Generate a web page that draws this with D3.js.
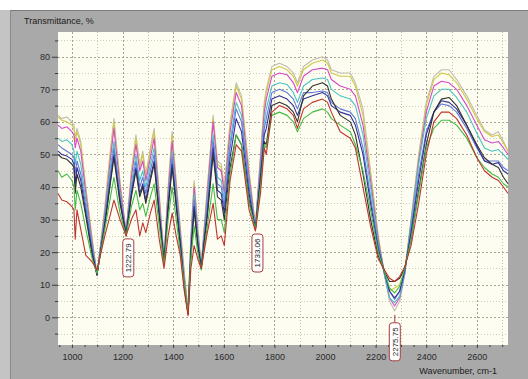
<!DOCTYPE html>
<html>
<head>
<meta charset="utf-8">
<script src="https://cdn.jsdelivr.net/npm/d3@7"></script>
<style>
  body { margin: 0; background: #fff; }
  svg { display: block; font-family: "Liberation Sans", Arial, sans-serif; }
</style>
</head>
<body>
<div id="chart"></div>
<script>
// ─── DATA ───────────────────────────────────────────────────────────────────────
const wavenumbers = [945, 960, 980, 1000, 1008, 1013, 1020, 1035, 1055, 1080, 1099, 1130, 1150, 1166, 1190, 1214, 1235, 1253, 1268, 1280, 1292, 1310, 1325, 1345, 1364, 1380, 1396, 1412, 1428, 1444, 1459, 1470, 1483, 1497, 1511, 1535, 1558, 1575, 1590, 1602, 1625, 1649, 1670, 1700, 1725, 1745, 1760, 1768, 1790, 1820, 1850, 1875, 1891, 1915, 1950, 1990, 2010, 2025, 2060, 2100, 2120, 2150, 2180, 2210, 2235, 2255, 2275, 2295, 2315, 2340, 2370, 2400, 2430, 2460, 2490, 2520, 2560, 2600, 2630, 2660, 2685, 2705, 2723];

const grayT = [62, 61, 61.5, 60, 59, 55, 58, 54, 40, 24, 13, 34, 50, 61, 42, 26, 45, 56, 47, 51, 44, 52, 58, 38, 18, 40, 57, 42, 28, 14, 2, 25, 42, 28, 16, 40, 62, 48, 47, 40, 60, 72, 68, 45, 28, 50, 66, 70, 77, 78, 77, 75, 72, 77, 79, 80, 79, 76, 75, 75, 72, 64, 45, 25, 13, 5, 2, 5, 13, 30, 50, 66, 74, 76, 76, 73, 68, 62, 57.5, 56, 57, 54, 51];
const yellowT = [61.5, 60.5, 60, 59, 58, 54, 57, 53, 39, 24, 13, 33, 49, 60, 41, 26, 44, 55, 46, 50, 43, 51, 57, 37, 18, 39, 56, 41, 27, 13, 2, 24, 41, 27, 16, 39, 61, 47, 46, 39, 59, 71, 67, 44, 28, 49, 65, 69, 76, 77, 76, 74, 71, 76, 78, 79, 78, 75, 74, 74, 71, 62, 44, 25, 13.5, 8, 9, 10, 14.5, 30, 49, 65, 73, 75, 74.5, 72, 67, 61, 57, 55.5, 56, 53.5, 51];
const magentaT = [59, 58, 58.5, 57, 56, 52, 55, 51, 38, 23, 13, 32, 47, 58, 40, 26, 43, 53, 45, 48, 42, 49, 55, 36, 18, 38, 54, 40, 26, 12, 1.5, 23, 40, 26, 15.5, 38, 60, 46, 45, 38, 57, 69, 65, 43, 27.5, 48, 63, 67, 74, 75, 74.5, 72, 69, 74, 76, 76.5, 76, 73, 71, 70, 68, 59, 42, 24, 13, 6, 3.5, 6, 13.5, 29, 48, 63, 71, 72.5, 72, 70, 65, 59, 54.5, 53.5, 54, 52, 50];
const cyanT = [55, 54, 54.5, 53, 51, 47, 51, 47, 36, 22, 13, 31, 45, 54, 38, 25.5, 41, 50, 42, 45, 40, 47, 52, 34, 17.5, 36, 51, 38, 25, 11, 1.5, 22, 38, 25, 15.5, 36, 56, 43, 42, 36, 54, 66, 62, 41, 27.5, 46, 60, 64, 71, 72, 71.5, 69, 66, 71, 73, 73.5, 73, 70, 68, 67, 65, 56, 40, 23, 13, 6, 4.5, 6.5, 13.5, 29, 47, 61, 68, 70, 70, 67.5, 63, 56.5, 52, 51, 51.5, 50, 48.5];
const blueT = [53, 52, 51, 50, 49, 44, 48, 44, 34, 21, 13, 30, 43, 52, 37, 25.5, 39, 48, 40, 43, 38, 45, 50, 33, 17, 35, 49, 36, 24, 10, 1, 21, 36, 24, 15, 34, 54, 41, 40, 34, 52, 64, 60, 40, 27, 45, 58, 61, 69, 70, 69, 67, 64, 69, 69, 69.5, 69, 66, 64, 63, 61, 52, 37, 22, 13.5, 8, 5.5, 8, 14, 27, 44, 57, 63, 65.5, 65, 63, 58, 52, 48, 48, 48, 46, 45];
const navyT = [51, 50, 49.5, 48.5, 47, 41, 46, 42, 32, 20, 13, 29, 41, 50, 36, 25.5, 38, 46, 38, 41, 36, 43, 48, 32, 17, 34, 47, 35, 23, 9.5, 1, 20, 34, 23, 15, 32, 52, 39, 38, 32, 49, 61, 57, 38, 27, 43, 56, 58, 67, 68, 67, 65, 62, 67, 68, 69, 68, 65, 63, 62, 59, 50, 35, 21, 14, 8, 6, 8, 14.5, 26, 42, 56, 63, 66.5, 66, 64, 59, 52.5, 48, 47, 47.5, 45, 44];
const blackT = [50, 49, 48.5, 47, 46, 38, 44, 40, 31, 19, 13, 28, 40, 49, 35, 25, 37, 45, 37, 40, 35, 42, 47, 31, 16.5, 33, 46, 34, 22, 9, 1, 19, 33, 22, 15, 31, 50, 37, 36, 30, 46, 56, 53, 36, 27, 42, 54, 53, 65, 66, 65, 63, 60, 68, 71, 72, 71, 67, 62, 60, 56, 44, 30, 19, 14, 11, 11, 12, 15, 24, 39, 53, 63, 67, 67.5, 65, 59, 53, 49, 47, 46, 43, 41];
const greenT = [45, 43, 44, 42, 40, 33, 39, 35, 27, 18, 13.5, 27, 36, 43, 32, 25, 34, 39, 33, 35, 31, 37, 41, 28, 16, 30, 40, 30, 20, 10, 1.5, 18, 28, 20, 14.5, 28, 41, 30, 30, 26, 44, 56, 53, 35, 27, 40, 53, 52, 62, 63, 62, 60, 57, 61, 63, 64, 63, 61, 59, 57, 53, 45, 33, 20, 14, 9, 7.5, 9.5, 15, 24, 38, 52, 58, 60.5, 60.5, 59, 55, 49, 46, 44, 43, 41, 40];
const redT = [38, 36, 35.5, 34, 33, 24, 33, 27, 19, 17, 14.5, 25, 31, 36, 30, 25, 30, 33, 25, 29, 26, 32, 36, 24, 15, 25, 32, 25, 19, 8, 0.5, 15, 22, 18, 15, 26, 35, 24, 25, 22, 42, 53, 51, 33, 26.5, 38, 52, 50, 63, 65, 64, 62, 58, 64, 66, 67, 66, 63, 57, 55, 52, 40, 28, 18, 14.5, 12, 11, 12.5, 15.5, 22, 35, 50, 60, 63, 63, 61, 56, 49, 45, 43, 42, 40, 38];

const seriesValues = [grayT, yellowT, magentaT, cyanT, blueT, navyT, blackT, greenT, redT];
const seriesColors = ['#c0bcae', '#d0ca46', '#d848cc', '#48c4c4', '#6278dc', '#30309a', '#303030', '#44bc44', '#c0342c'];

const yTicks = [0, 10, 20, 30, 40, 50, 60, 70, 80];
const xTicks = [1000, 1200, 1400, 1600, 1800, 2000, 2200, 2400, 2600];

const peakPositions = [1222.79, 1733.06, 2275.75];
const peakLabels = ['1222.79', '1733.06', '2275.75'];

// ─── LAYOUT ─────────────────────────────────────────────────────────────────────
const W = 528, H = 379;
const plot = {left: 58, top: 32, right: 508, bottom: 345};
const labelGap = [3, 3, 12];

const svg = d3.select('#chart').append('svg')
  .attr('width', W)
  .attr('height', H);

// grey frame
svg.append('rect')
  .attr('x', 0).attr('y', 10)
  .attr('width', 10).attr('height', H - 10)
  .attr('fill', '#c4c4c4');
svg.append('rect')
  .attr('x', 10).attr('y', 10)
  .attr('width', W - 10).attr('height', H - 10)
  .attr('fill', '#a9a9a9');
svg.append('line')
  .attr('x1', 10).attr('x2', W).attr('y1', 10.5).attr('y2', 10.5)
  .attr('stroke', '#7a7a7a');
svg.append('line')
  .attr('x1', 10.5).attr('x2', 10.5).attr('y1', 10).attr('y2', H)
  .attr('stroke', '#8a8a8a');

// plot area
svg.append('rect')
  .attr('x', plot.left).attr('y', plot.top)
  .attr('width', plot.right - plot.left).attr('height', plot.bottom - plot.top)
  .attr('fill', '#fdfdf1');

// ─── SCALES ─────────────────────────────────────────────────────────────────────
const x = d3.scaleLinear().domain([945, 2723]).range([plot.left, plot.right]);
const y = d3.scaleLinear().domain([-8.5, 87.6]).range([plot.bottom, plot.top]);

// ─── GRID ───────────────────────────────────────────────────────────────────────
const grid = svg.append('g');
d3.range(-5, 86, 5).forEach(v => {
  const major = v % 10 === 0;
  grid.append('line')
    .attr('x1', plot.left).attr('x2', plot.right)
    .attr('y1', Math.round(y(v)) + 0.5).attr('y2', Math.round(y(v)) + 0.5)
    .attr('stroke', major ? '#a8a494' : '#cfcbbb')
    .attr('stroke-dasharray', major ? '2,2' : '1,2');
});
d3.range(1000, 2701, 100).forEach(v => {
  const major = v % 200 === 0;
  grid.append('line')
    .attr('x1', Math.round(x(v)) + 0.5).attr('x2', Math.round(x(v)) + 0.5)
    .attr('y1', plot.top).attr('y2', plot.bottom)
    .attr('stroke', major ? '#a8a494' : '#c4c0b0')
    .attr('stroke-dasharray', major ? '2,2' : '1,2');
});

// ─── AXES ───────────────────────────────────────────────────────────────────────
const yAxis = svg.append('g')
  .attr('transform', `translate(${plot.left},0)`)
  .call(d3.axisLeft(y).tickValues(yTicks).tickSize(6).tickPadding(2));
yAxis.select('.domain').remove();

const yMinor = svg.append('g')
  .attr('transform', `translate(${plot.left},0)`)
  .call(d3.axisLeft(y).tickValues(d3.range(-5, 86, 10)).tickSize(3).tickFormat(''));
yMinor.select('.domain').remove();

const xAxis = svg.append('g')
  .attr('transform', `translate(0,${plot.bottom})`)
  .call(d3.axisBottom(x).tickValues(xTicks).tickSize(3).tickPadding(6).tickFormat(d3.format('d')));
xAxis.select('.domain').remove();

const xMinor = svg.append('g')
  .attr('transform', `translate(0,${plot.bottom})`)
  .call(d3.axisBottom(x).tickValues(d3.range(950, 2723, 50).filter(v => v % 200 !== 0)).tickSize(2).tickFormat(''));
xMinor.select('.domain').remove();

svg.selectAll('.tick line').attr('stroke', '#3a3a3a');
svg.selectAll('.tick text')
  .attr('fill', '#2a2a2a')
  .style('font-size', '9px')
  .style('font-family', '"Liberation Sans", Arial, sans-serif');

// axis titles
svg.append('text')
  .attr('x', 24).attr('y', 24)
  .attr('fill', '#1a1a1a')
  .style('font-size', '9px')
  .text('Transmittance, %');

svg.append('text')
  .attr('x', 497).attr('y', 374)
  .attr('text-anchor', 'end')
  .attr('fill', '#1a1a1a')
  .style('font-size', '9px')
  .text('Wavenumber, cm-1');

// ─── SPECTRA ────────────────────────────────────────────────────────────────────
const line = d3.line()
  .x((d, i) => x(wavenumbers[i]))
  .y(d => y(d));

const lines = svg.append('g');
seriesValues.forEach((vals, k) => {
  lines.append('path')
    .datum(vals)
    .attr('d', line)
    .attr('fill', 'none')
    .attr('stroke', seriesColors[k])
    .attr('stroke-width', 1.1)
    .attr('stroke-linejoin', 'round');
});

// ─── PEAK LABELS ────────────────────────────────────────────────────────────────
peakPositions.forEach((p, i) => {
  const j = d3.minIndex(wavenumbers, w => Math.abs(w - p));
  const low = d3.min(seriesValues, s => s[j]);
  const px = x(p);
  const top = y(low) + labelGap[i];
  const bw = 11, bh = 38;
  const g = svg.append('g');
  if (labelGap[i] > 5) {
    g.append('line')
      .attr('x1', px).attr('x2', px)
      .attr('y1', y(low) + 4).attr('y2', top)
      .attr('stroke', '#a83c3c');
  }
  g.append('rect')
    .attr('x', px - bw / 2).attr('y', top)
    .attr('width', bw).attr('height', bh)
    .attr('rx', 3)
    .attr('fill', '#ffffff')
    .attr('stroke', '#a83c3c');
  g.append('text')
    .attr('transform', `translate(${px + 3},${top + bh / 2}) rotate(-90)`)
    .attr('text-anchor', 'middle')
    .attr('fill', '#222')
    .style('font-size', '8px')
    .text(peakLabels[i]);
});
</script>
</body>
</html>
